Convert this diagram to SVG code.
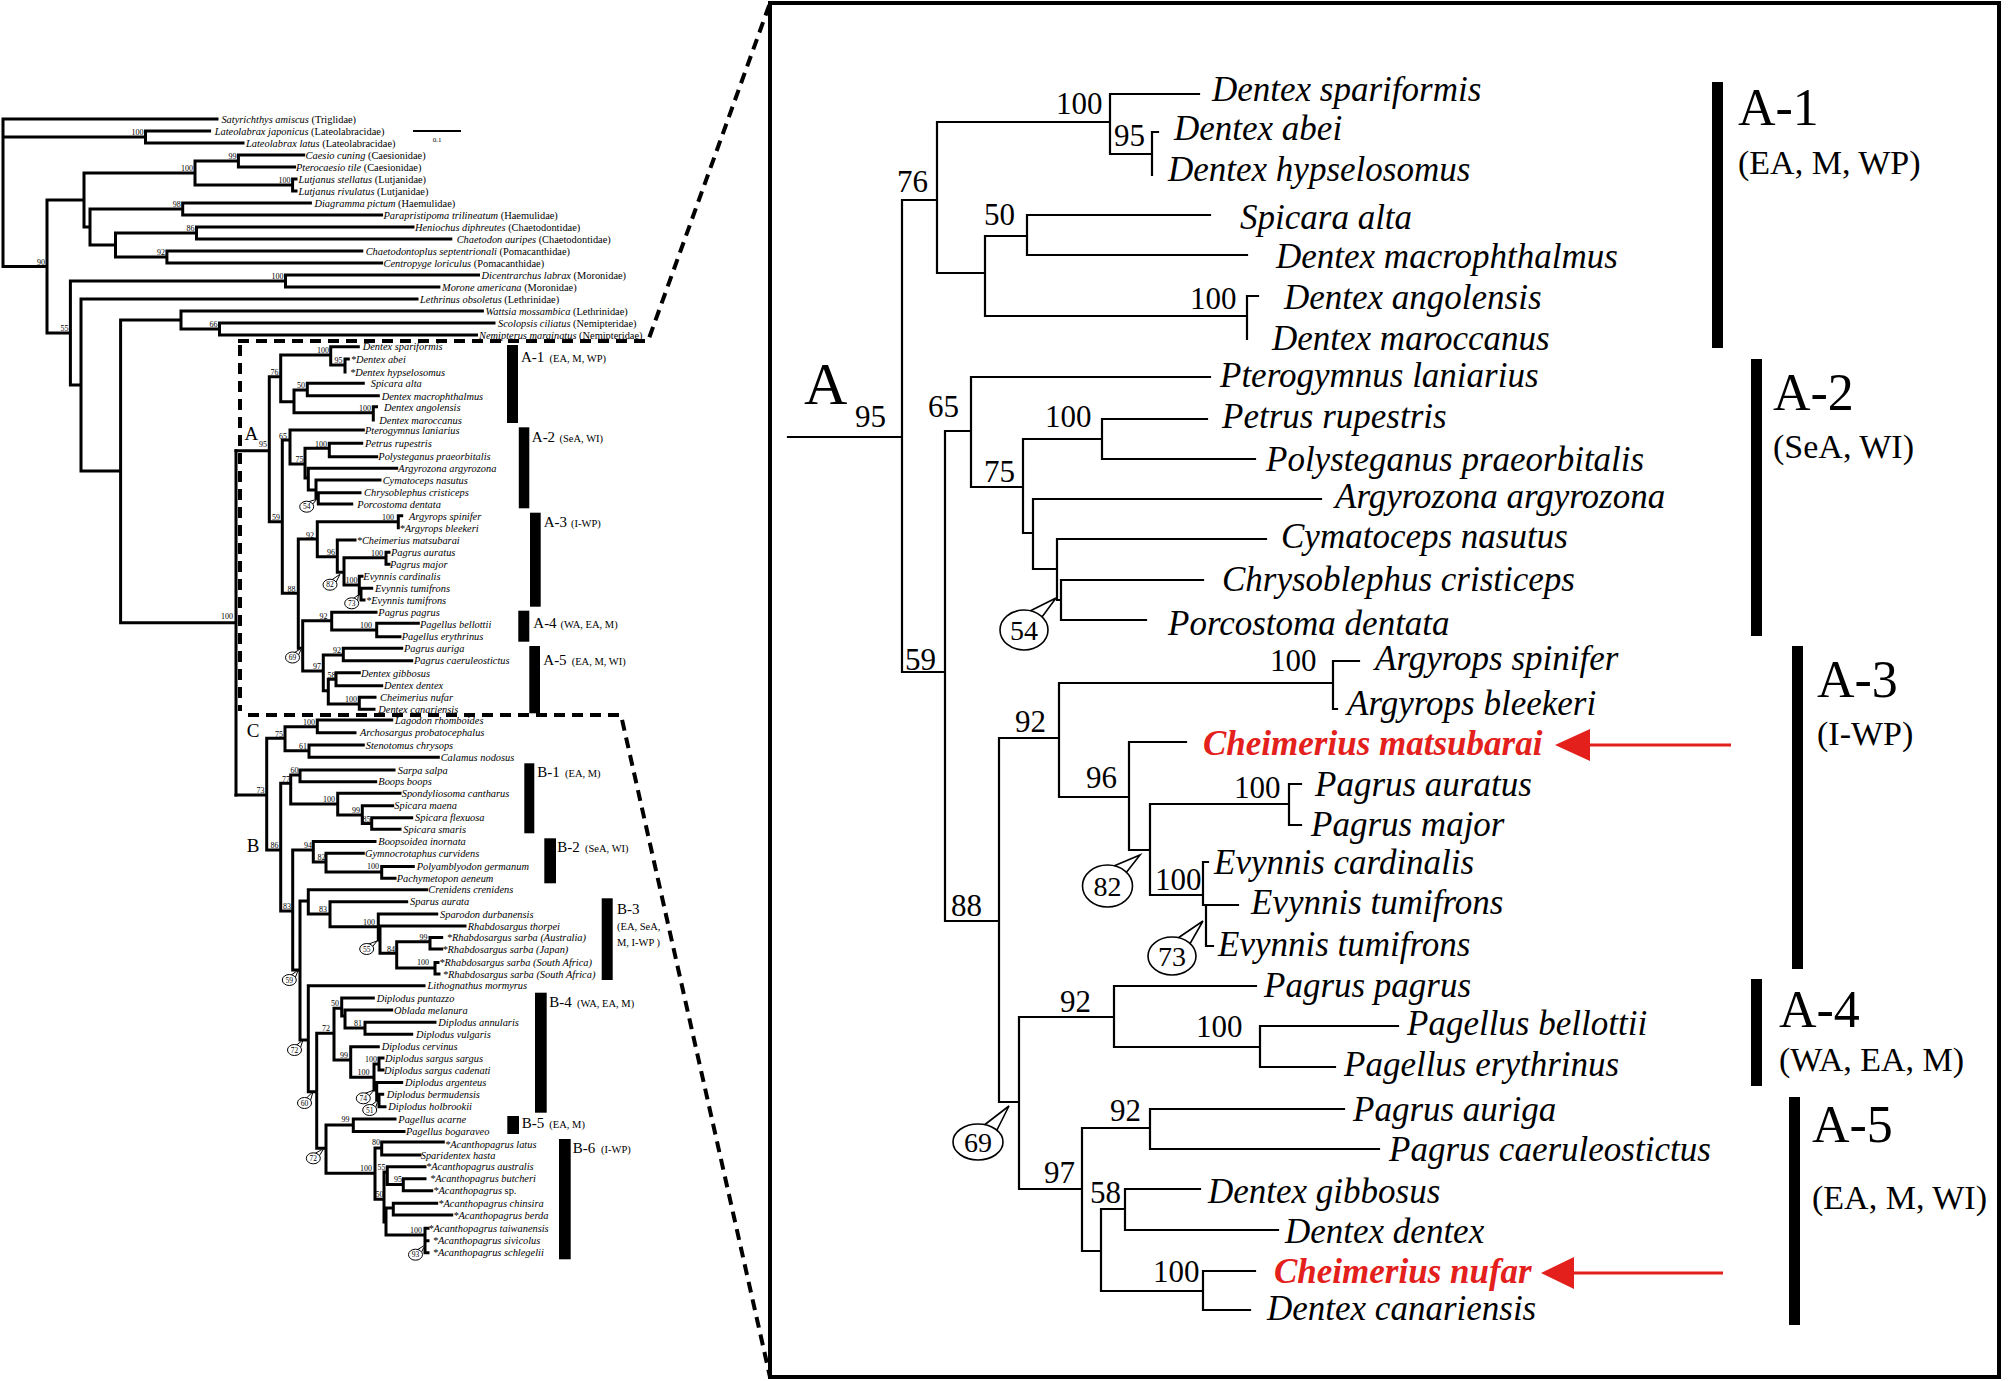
<svg xmlns="http://www.w3.org/2000/svg" width="2008" height="1381" viewBox="0 0 2008 1381">
<style>
text{font-family:"Liberation Serif","Times New Roman",serif;fill:#000}
.lt{font-size:10.4px;font-style:italic}
.r{font-style:normal}
.ln{font-size:8px;text-anchor:end}
.lc{font-size:7.5px;text-anchor:middle}
.lab{font-size:19px}
.cl{font-size:15px}
.cs{font-size:10.5px}
.rt{font-size:35px;font-style:italic}
.red{fill:#e3201b;font-weight:bold}
.rn{font-size:31px}
.rc{font-size:28px;text-anchor:middle}
.rcl{font-size:52px}
.rcs{font-size:34px}
.lb{fill:none;stroke:#000;stroke-width:3;stroke-linecap:square}
.rb{fill:none;stroke:#000;stroke-width:2.2;stroke-linecap:square}
.dash{fill:none;stroke:#000;stroke-width:4;stroke-dasharray:11 7}
.bl{fill:#fff;stroke:#000;stroke-width:1}
.br{fill:#fff;stroke:#000;stroke-width:1.6}
.bar{fill:#000}
.arr{stroke:#e3201b;stroke-width:3;fill:none}
.ah{fill:#e3201b}
</style>

<g id="connectors">
<g id="left-branches">
<path class="lb" d="M3 119V266.5M3 119H217M3 137H145.5M145.5 131V143M145.5 131H209.6M145.5 143H243M3 266.5H47M47 200V333M47 200H84M84 173V227M84 173H195M195 161V185M195 161H238.4M238.4 155V167M238.4 155H303.7M238.4 167H294.6M195 185H292.6M292.6 179V191M292.6 179H296M292.6 191H296M84 227H90M90 209V245M90 209H182.7M182.7 203V215M182.7 203H310.4M182.7 215H381.6M90 245H115.5M115.5 233V257M115.5 233H196.5M196.5 227V239M196.5 227H413M196.5 239H450.8M115.5 257H166.9M166.9 251V263M166.9 251H361.8M166.9 263H381.6M47 333H70.4M70.4 281V385M70.4 281H285.5M285.5 275V287M285.5 275H478.5M285.5 287H438.9M70.4 385H81M81 299V471M81 299H417M81 471H120.6M120.6 320V622.7M120.6 320H181M181 311V329M181 311H482.4M181 329H219.5M219.5 323V335M219.5 323H494M219.5 335H476.5M120.6 622.7H236M236 450.7V795"/>
<path class="lb" d="M236 450.7H269.3M269.3 376.7V521.7M269.3 376.7H280.7M280.7 355V401.7M280.7 355H330.7M330.7 346.7V365M330.7 346.7H358.3M330.7 365H345M345 359V372M345 359H348.3M280.7 401.7H294M294 390V412.7M294 390H307.3M307.3 383.3V395.7M307.3 383.3H363.3M307.3 395.7H378.3M294 412.7H373.3M373.3 406.7V420M373.3 406.7H376.5M269.3 521.7H282.3M282.3 440V593.3M282.3 440H290M290 430V464M290 430H363.3M290 464H305M305 448.3V478M305 448.3H329.3M329.3 443.3V456.7M329.3 443.3H361.7M329.3 456.7H376.7M305 478H308.3M308.3 468.3V490M308.3 468.3H396.7M308.3 490H316M316 480V498M316 480H380M316 498H318.3M318.3 492.7V504M318.3 492.7H360M318.3 504H351.7M282.3 593.3H298.3M298.3 539V648.3M298.3 539H317.3M317.3 521.7V556.7M317.3 521.7H398.3M398.3 515.7V527.7M398.3 515.7H401.7M317.3 556.7H337.3M337.3 540V572.3M337.3 540H355M337.3 572.3H344M344 557.7V585M344 557.7H386M386 552.3V564.3M386 552.3H389M386 564.3H389M344 585H359.3M359.3 576.3V594M359.3 576.3H362M359.3 594H361M361 588.3V600M361 588.3H371.7M361 600H364M298.3 648.3H302.7M302.7 620.7V671M302.7 620.7H331.7M331.7 612.3V630M331.7 612.3H376M331.7 630H376.7M376.7 623.3V636.7M376.7 623.3H418.3M376.7 636.7H400M302.7 671H323.3M323.3 655V690.7M323.3 655H343.3M343.3 648.3V660.7M343.3 648.3H401.7M343.3 660.7H411.7M323.3 690.7H328.3M328.3 679.3V704M328.3 679.3H336M336 672.7V685.7M336 672.7H359.3M336 685.7H381.7M328.3 704H359.3M359.3 697.3V709.3M359.3 697.3H375M359.3 709.3H374"/>
<path class="lb" d="M236 795H266.7M266.7 738.3V850M266.7 738.3H285M285 726.7V750.7M285 726.7H317.3M317.3 720V732.7M317.3 720H391.7M317.3 732.7H355M285 750.7H309M309 745V757.3M309 745H363.3M309 757.3H438.3M266.7 850H280.7M280.7 783.3V911M280.7 783.3H290.7M290.7 775V804M290.7 775H300M300 770V781.7M300 770H394M300 781.7H375.7M290.7 804H337.7M337.7 793.3V815M337.7 793.3H400M337.7 815H362.3M362.3 805.7V823.5M362.3 805.7H392.7M362.3 823.5H371.7M371.7 817.7V829.3M371.7 817.7H411.7M371.7 829.3H400M280.7 911H292.7M292.7 850V970M292.7 850H313.3M313.3 841.5V862M313.3 841.5H375M313.3 862H326M326 853.3V872M326 853.3H363.3M326 872H381.7M381.7 866.5V878.3M381.7 866.5H413.3M381.7 878.3H395M292.7 970H300M300 901V1040M300 901H308.3M308.3 889.7V914M308.3 889.7H426.7M308.3 914H330M330 901.7V926.7M330 901.7H406.7M330 926.7H378.3M378.3 914V940M378.3 914H436.7M378.3 940H380M380 926V953.3M380 926H465M380 953.3H396.7M396.7 941.7V968M396.7 941.7H430M430 937.5V949M430 937.5H441.7M430 949H441.7M396.7 968H435M435 962.5V974M435 962.5H438M435 974H439M300 1040H308.3M308.3 985.7V1091.7M308.3 985.7H424M308.3 1091.7H316.7M316.7 1033.3V1148.3M316.7 1033.3H334M334 1008.3V1060M334 1008.3H341.7M341.7 998V1016M341.7 998H373.3M341.7 1016H345M345 1010V1028M345 1010H391.7M345 1028H365M365 1022.3V1034.3M365 1022.3H435M365 1034.3H411.7M334 1060H350.7M350.7 1046.7V1077.3M350.7 1046.7H378.3M350.7 1077.3H374M374 1064V1090M374 1064H379M379 1058V1070M379 1058H383M379 1070H383M374 1090H376.7M376.7 1082.5V1100M376.7 1082.5H401.7M376.7 1100H379M379 1094.3V1106.7M379 1094.3H382.7M379 1106.7H385M316.7 1148.3H326M326 1125V1173.3M326 1125H353.3M353.3 1119V1131.5M353.3 1119H395M353.3 1131.5H404M326 1173.3H375M375 1148V1199.3M375 1148H381.7M381.7 1142V1155M381.7 1142H443.3M381.7 1155H420M375 1199.3H384M384 1172V1222M384 1172H387.3M387.3 1166.7V1184.5M387.3 1166.7H425M387.3 1184.5H403.3M403.3 1178.7V1190.7M403.3 1178.7H425M403.3 1190.7H431.7M384 1222H386M386 1208V1235M386 1208H393.3M393.3 1203.3V1215M393.3 1203.3H436.7M393.3 1215H451.7M386 1235H425M425 1228.3V1252.7M425 1228.3H428M425 1240.7H428M425 1252.7H428"/>
</g>
<g id="zoom-box">
<path class="dash" d="M238 341H648L770 3"/>
<path class="dash" d="M240 345V711"/>
<path class="dash" d="M248 715H621L770 1377"/>
</g>
<g id="right-branches">
<path class="rb" d="M788 437H902M902 200V672M902 200H937M937 122V273M937 122H1110M1110 94V154M1110 94H1199M1110 154H1152M1152 132V175M1152 132H1158M937 273H985M985 236V316M985 236H1027M1027 215V255M1027 215H1210M1027 255H1247M985 316H1247M1247 296V339M1247 296H1258M902 672H945M945 431V921M945 431H971M971 377V487M971 377H1210M971 487H1023M1023 439V533M1023 439H1102M1102 419V459M1102 419H1207M1102 459H1255M1023 533H1033M1033 499V569M1033 499H1321M1033 569H1057M1057 539V600M1057 539H1266M1057 600H1061M1061 580V620M1061 580H1203M1061 620H1146M945 921H999M999 738V1102M999 738H1059M1059 683V797M1059 683H1333M1333 661V709M1333 661H1359M1333 709H1337M1059 797H1129M1129 742V850M1129 742H1186M1129 850H1150M1150 804V895M1150 804H1289M1289 784V825M1289 784H1301M1289 825H1301M1150 895H1203M1203 862V905M1203 862H1208M1203 905H1238M1206 905V946M1206 946H1213M999 1102H1019M1019 1017V1189M1019 1017H1114M1114 986V1047M1114 986H1256M1114 1047H1260M1260 1026V1067M1260 1026H1398M1260 1067H1335M1019 1189H1082M1082 1128V1251M1082 1128H1150M1150 1109V1149M1150 1109H1344M1150 1149H1379M1082 1251H1101M1101 1209V1291M1101 1209H1125M1125 1189V1230M1125 1189H1200M1125 1230H1278M1101 1291H1203M1203 1271V1310M1203 1271H1255M1203 1310H1250"/>
</g>
<g id="red-arrows">
<path class="arr" d="M1731 745H1585"/>
<polygon class="ah" points="1555,745 1590,729 1590,761"/>
<path class="arr" d="M1723 1273H1568"/>
<polygon class="ah" points="1541,1273 1574,1257 1574,1289"/>
</g>
</g>

<g id="frame"><rect x="770" y="3" width="1229" height="1374" fill="none" stroke="#000" stroke-width="4"/></g>

<g id="scale-bar">
<path d="M413 131H461" stroke="#000" stroke-width="2"/>
<text x="437" y="142" font-size="7" text-anchor="middle">0.1</text>
</g>

<g id="left-outgroups" class="lt">
<text x="221.4" y="122.5">Satyrichthys amiscus<tspan class="r"> (Triglidae)</tspan></text>
<text x="214.7" y="134.5">Lateolabrax japonicus<tspan class="r"> (Lateolabracidae)</tspan></text>
<text x="246" y="146.5">Lateolabrax latus<tspan class="r"> (Lateolabracidae)</tspan></text>
<text x="305.6" y="158.5">Caesio cuning<tspan class="r"> (Caesionidae)</tspan></text>
<text x="296" y="170.5">Pterocaesio tile<tspan class="r"> (Caesionidae)</tspan></text>
<text x="298.5" y="182.5">Lutjanus stellatus<tspan class="r"> (Lutjanidae)</tspan></text>
<text x="298.5" y="194.5">Lutjanus rivulatus<tspan class="r"> (Lutjanidae)</tspan></text>
<text x="314.4" y="206.5">Diagramma pictum<tspan class="r"> (Haemulidae)</tspan></text>
<text x="383.5" y="218.5">Parapristipoma trilineatum<tspan class="r"> (Haemulidae)</tspan></text>
<text x="415" y="230.5">Heniochus diphreutes<tspan class="r"> (Chaetodontidae)</tspan></text>
<text x="456.7" y="242.5">Chaetodon auripes<tspan class="r"> (Chaetodontidae)</tspan></text>
<text x="365.7" y="254.5">Chaetodontoplus septentrionali<tspan class="r"> (Pomacanthidae)</tspan></text>
<text x="383.5" y="266.5">Centropyge loriculus<tspan class="r"> (Pomacanthidae)</tspan></text>
<text x="481.6" y="278.5">Dicentrarchus labrax<tspan class="r"> (Moronidae)</tspan></text>
<text x="442" y="290.5">Morone americana<tspan class="r"> (Moronidae)</tspan></text>
<text x="420" y="302.5">Lethrinus obsoletus<tspan class="r"> (Lethrinidae)</tspan></text>
<text x="485.6" y="314.5">Wattsia mossambica<tspan class="r"> (Lethrinidae)</tspan></text>
<text x="498" y="326.5">Scolopsis ciliatus<tspan class="r"> (Nemipteridae)</tspan></text>
<text x="479" y="338.5">Nemipterus marginatus<tspan class="r"> (Nemipteridae)</tspan></text>
</g>
<g id="left-outgroup-support" class="ln">
<text x="143.5" y="135">100</text>
<text x="236.4" y="159">99</text>
<text x="193" y="171">100</text>
<text x="290.6" y="183">100</text>
<text x="180.7" y="207">98</text>
<text x="194.5" y="231">86</text>
<text x="164.9" y="255">92</text>
<text x="283.5" y="279">100</text>
<text x="45" y="264.5">90</text>
<text x="68.4" y="331">55</text>
<text x="217.5" y="327">66</text>
<text x="233" y="619">100</text>
</g>

<g id="left-cladeA">
<g class="lt">
<text x="362.7" y="350.2">Dentex spariformis</text>
<text x="350.7" y="362.5">*Dentex abei</text>
<text x="350" y="375.5">*Dentex hypselosomus</text>
<text x="370.7" y="386.8">Spicara alta</text>
<text x="381.7" y="399.5">Dentex macrophthalmus</text>
<text x="384" y="410.5">Dentex angolensis</text>
<text x="379.3" y="423.5">Dentex maroccanus</text>
<text x="365" y="433.5">Pterogymnus laniarius</text>
<text x="365" y="446.8">Petrus rupestris</text>
<text x="378.3" y="459.5">Polysteganus praeorbitalis</text>
<text x="398.3" y="471.8">Argyrozona argyrozona</text>
<text x="382.7" y="483.5">Cymatoceps nasutus</text>
<text x="364" y="496">Chrysoblephus cristiceps</text>
<text x="357.3" y="507.5">Porcostoma dentata</text>
<text x="409" y="519.5">Argyrops spinifer</text>
<text x="399.5" y="531.5">*Argyrops bleekeri</text>
<text x="356.7" y="543.5">*Cheimerius matsubarai</text>
<text x="391" y="555.8">Pagrus auratus</text>
<text x="390" y="567.8">Pagrus major</text>
<text x="363.3" y="579.8">Evynnis cardinalis</text>
<text x="375" y="591.8">Evynnis tumifrons</text>
<text x="366" y="603.5">*Evynnis tumifrons</text>
<text x="378.3" y="615.8">Pagrus pagrus</text>
<text x="420" y="627.5">Pagellus bellottii</text>
<text x="401.7" y="640">Pagellus erythrinus</text>
<text x="404" y="652">Pagrus auriga</text>
<text x="414" y="664.2">Pagrus caeruleostictus</text>
<text x="361" y="676.5">Dentex gibbosus</text>
<text x="384" y="689">Dentex dentex</text>
<text x="380" y="700.8">Cheimerius nufar</text>
<text x="378.3" y="712.5">Dentex canariensis</text>
</g>
<text class="lab" x="244.5" y="440">A</text>
<g class="ln">
<text x="267" y="446.5">95</text>
<text x="278.5" y="375">76</text>
<text x="329" y="353">100</text>
<text x="342.5" y="363">95</text>
<text x="305" y="388">50</text>
<text x="371" y="410.5">100</text>
<text x="280" y="519.5">59</text>
<text x="287" y="438.5">65</text>
<text x="303.5" y="462">75</text>
<text x="327" y="446.5">100</text>
<text x="295.5" y="591.5">88</text>
<text x="314" y="537.5">92</text>
<text x="394" y="519.5">100</text>
<text x="335" y="554.5">96</text>
<text x="383" y="556">100</text>
<text x="357.5" y="583">100</text>
<text x="327.5" y="618.5">92</text>
<text x="372" y="628">100</text>
<text x="321" y="669">97</text>
<text x="341" y="653">92</text>
<text x="335.5" y="677.5">58</text>
<text x="357" y="702">100</text>
</g>
</g>

<g id="left-cladeBC">
<g class="lt">
<text x="395" y="723.5">Lagodon rhomboides</text>
<text x="360" y="736.2">Archosargus probatocephalus</text>
<text x="365.7" y="748.5">Stenotomus chrysops</text>
<text x="440.7" y="760.8">Calamus nodosus</text>
<text x="397.7" y="773.5">Sarpa salpa</text>
<text x="378.3" y="785.2">Boops boops</text>
<text x="401.7" y="796.8">Spondyliosoma cantharus</text>
<text x="394.3" y="809.2">Spicara maena</text>
<text x="415" y="821.2">Spicara flexuosa</text>
<text x="403.3" y="832.8">Spicara smaris</text>
<text x="378.3" y="845">Boopsoidea inornata</text>
<text x="365" y="856.8">Gymnocrotaphus curvidens</text>
<text x="416.7" y="870">Polyamblyodon germanum</text>
<text x="396.7" y="881.8">Pachymetopon aeneum</text>
<text x="428.3" y="893.2">Crenidens crenidens</text>
<text x="410" y="905.2">Sparus aurata</text>
<text x="440" y="917.5">Sparodon durbanensis</text>
<text x="467.7" y="929.5">Rhabdosargus thorpei</text>
<text x="446.7" y="941">*Rhabdosargus sarba (Australia)</text>
<text x="442.3" y="952.5">*Rhabdosargus sarba (Japan)</text>
<text x="439.3" y="966">*Rhabdosargus sarba (South Africa)</text>
<text x="442.7" y="977.5">*Rhabdosargus sarba (South Africa)</text>
<text x="427.5" y="989.2">Lithognathus mormyrus</text>
<text x="376.7" y="1001.5">Diplodus puntazzo</text>
<text x="394" y="1013.5">Oblada melanura</text>
<text x="438.3" y="1025.8">Diplodus annularis</text>
<text x="416" y="1037.8">Diplodus vulgaris</text>
<text x="381.7" y="1050.2">Diplodus cervinus</text>
<text x="385" y="1061.5">Diplodus sargus sargus</text>
<text x="384" y="1073.5">Diplodus sargus cadenati</text>
<text x="405" y="1086">Diplodus argenteus</text>
<text x="386.7" y="1097.8">Diplodus bermudensis</text>
<text x="388.3" y="1110.2">Diplodus holbrookii</text>
<text x="398.3" y="1122.5">Pagellus acarne</text>
<text x="406" y="1135">Pagellus bogaraveo</text>
<text x="445" y="1147.5">*Acanthopagrus latus</text>
<text x="420.7" y="1158.5">Sparidentex hasta</text>
<text x="426" y="1170.2">*Acanthopagrus australis</text>
<text x="430" y="1182.2">*Acanthopagrus butcheri</text>
<text x="433.3" y="1194.2">*Acanthopagrus<tspan class="r"> sp.</tspan></text>
<text x="438.3" y="1206.8">*Acanthopagrus chinsira</text>
<text x="453.3" y="1218.5">*Acanthopagrus berda</text>
<text x="428.3" y="1231.8">*Acanthopagrus taiwanensis</text>
<text x="432.7" y="1244.2">*Acanthopagrus sivicolus</text>
<text x="432.7" y="1256.2">*Acanthopagrus schlegelii</text>
</g>
<text class="lab" x="246.7" y="736.7">C</text>
<text class="lab" x="246.7" y="851.7">B</text>
<g class="ln">
<text x="264.5" y="792.5">73</text>
<text x="283" y="736.5">75</text>
<text x="315" y="725">100</text>
<text x="307" y="748.5">61</text>
<text x="278.5" y="848">86</text>
<text x="290" y="782">77</text>
<text x="298.5" y="773">60</text>
<text x="335" y="802">100</text>
<text x="360" y="813">99</text>
<text x="370.5" y="821.5">85</text>
<text x="291" y="909">83</text>
<text x="312" y="848">94</text>
<text x="325.5" y="860">82</text>
<text x="379" y="869">100</text>
<text x="327" y="911.5">83</text>
<text x="375" y="924.5">100</text>
<text x="395" y="951.5">84</text>
<text x="427.5" y="939.5">99</text>
<text x="429" y="965">100</text>
<text x="330" y="1031">72</text>
<text x="339" y="1006">50</text>
<text x="362" y="1025.5">81</text>
<text x="348" y="1057.5">99</text>
<text x="369.5" y="1074.5">100</text>
<text x="377" y="1061.5">100</text>
<text x="349.5" y="1122">99</text>
<text x="372" y="1171">100</text>
<text x="380" y="1145">80</text>
<text x="385.5" y="1170">55</text>
<text x="402" y="1182">95</text>
<text x="383.5" y="1197">50</text>
<text x="422" y="1233">100</text>
</g>
</g>

<g id="left-callouts">
<path class="bl" d="M308.7 501.7L316.7 499.3L312.7 504.2Z"/><ellipse class="bl" cx="306.7" cy="506.7" rx="7" ry="5.5"/><text class="lc" x="306.7" y="509.4">54</text>
<path class="bl" d="M332 579.7L340 574.3L336 582.2Z"/><ellipse class="bl" cx="330" cy="584.7" rx="7" ry="5.5"/><text class="lc" x="330" y="587.4">82</text>
<path class="bl" d="M353.7 598.3L358.3 595L357.7 600.8Z"/><ellipse class="bl" cx="351.7" cy="603.3" rx="7" ry="5.5"/><text class="lc" x="351.7" y="606">73</text>
<path class="bl" d="M294.5 652.5L301.7 648.3L298.5 655Z"/><ellipse class="bl" cx="292.5" cy="657.5" rx="7" ry="5.5"/><text class="lc" x="292.5" y="660.2">69</text>
<path class="bl" d="M291.3 975L298.3 970L295.3 977.5Z"/><ellipse class="bl" cx="289.3" cy="980" rx="7" ry="5.5"/><text class="lc" x="289.3" y="982.7">59</text>
<path class="bl" d="M368.7 944L377 941L372.7 946.5Z"/><ellipse class="bl" cx="366.7" cy="949" rx="7" ry="5.5"/><text class="lc" x="366.7" y="951.7">55</text>
<path class="bl" d="M296.5 1045L303 1040L300.5 1047.5Z"/><ellipse class="bl" cx="294.5" cy="1050" rx="7" ry="5.5"/><text class="lc" x="294.5" y="1052.7">72</text>
<path class="bl" d="M306.5 1098L313 1091.7L310.5 1100.5Z"/><ellipse class="bl" cx="304.5" cy="1103" rx="7" ry="5.5"/><text class="lc" x="304.5" y="1105.7">60</text>
<path class="bl" d="M365.3 1093.3L374 1090L369.3 1095.8Z"/><ellipse class="bl" cx="363.3" cy="1098.3" rx="7" ry="5.5"/><text class="lc" x="363.3" y="1101">74</text>
<path class="bl" d="M371.7 1105L378 1100L375.7 1107.5Z"/><ellipse class="bl" cx="369.7" cy="1110" rx="7" ry="5.5"/><text class="lc" x="369.7" y="1112.7">51</text>
<path class="bl" d="M315.3 1153.3L324 1148.3L319.3 1155.8Z"/><ellipse class="bl" cx="313.3" cy="1158.3" rx="7" ry="5.5"/><text class="lc" x="313.3" y="1161">72</text>
<path class="bl" d="M417.5 1249.7L425 1245L421.5 1252.2Z"/><ellipse class="bl" cx="415.5" cy="1254.7" rx="7" ry="5.5"/><text class="lc" x="415.5" y="1257.4">93</text>
</g>

<g id="left-clade-bars">
<rect class="bar" x="507" y="345" width="11" height="78"/>
<text class="cl" x="521" y="361.7">A-1</text><text class="cs" x="549.6" y="361.7">(EA, M, WP)</text>
<rect class="bar" x="518.8" y="427.3" width="10.5" height="81"/>
<text class="cl" x="531.8" y="441.7">A-2</text><text class="cs" x="559.5" y="441.7">(SeA, WI)</text>
<rect class="bar" x="530" y="512.7" width="10.7" height="94"/>
<text class="cl" x="543.7" y="526.7">A-3</text><text class="cs" x="571" y="526.7">(I-WP)</text>
<rect class="bar" x="518.3" y="610.7" width="11" height="31"/>
<text class="cl" x="533.3" y="628.3">A-4</text><text class="cs" x="560.5" y="628.3">(WA, EA, M)</text>
<rect class="bar" x="529.3" y="646" width="10.7" height="67.3"/>
<text class="cl" x="543.3" y="665">A-5</text><text class="cs" x="571.7" y="665">(EA, M, WI)</text>
<rect class="bar" x="524.3" y="763.3" width="10" height="70"/>
<text class="cl" x="537.3" y="777.3">B-1</text><text class="cs" x="565" y="777.3">(EA, M)</text>
<rect class="bar" x="544.3" y="838.3" width="11.7" height="45"/>
<text class="cl" x="557.3" y="851.7">B-2</text><text class="cs" x="585" y="851.7">(SeA, WI)</text>
<rect class="bar" x="601.7" y="898.3" width="11" height="81.7"/>
<text class="cl" x="617" y="914">B-3</text><text class="cs" x="617" y="930">(EA, SeA,</text><text class="cs" x="617" y="946">M, I-WP )</text>
<rect class="bar" x="535" y="992.7" width="11.7" height="120"/>
<text class="cl" x="549.3" y="1006.7">B-4</text><text class="cs" x="577" y="1006.7">(WA, EA, M)</text>
<rect class="bar" x="507.3" y="1116" width="11.7" height="18"/>
<text class="cl" x="521.7" y="1128.3">B-5</text><text class="cs" x="549.3" y="1128.3">(EA, M)</text>
<rect class="bar" x="559" y="1139" width="11.7" height="120.3"/>
<text class="cl" x="572.7" y="1152.7">B-6</text><text class="cs" x="601" y="1152.7">(I-WP)</text>
</g>

<g id="right-taxa" class="rt">
<g id="r-spariformis"><text x="1212" y="101">Dentex spariformis</text></g>
<g id="r-abei"><text x="1174" y="140">Dentex abei</text></g>
<g id="r-hypselosomus"><text x="1168" y="181">Dentex hypselosomus</text></g>
<g id="r-spicara"><text x="1240" y="229">Spicara alta</text></g>
<g id="r-macrophthalmus"><text x="1276" y="268">Dentex macrophthalmus</text></g>
<g id="r-angolensis"><text x="1284" y="309">Dentex angolensis</text></g>
<g id="r-maroccanus"><text x="1272" y="350">Dentex maroccanus</text></g>
<g id="r-pterogymnus"><text x="1220" y="387">Pterogymnus laniarius</text></g>
<g id="r-petrus"><text x="1222" y="428">Petrus rupestris</text></g>
<g id="r-polysteganus"><text x="1266" y="471">Polysteganus praeorbitalis</text></g>
<g id="r-argyrozona"><text x="1335" y="508">Argyrozona argyrozona</text></g>
<g id="r-cymatoceps"><text x="1281" y="548">Cymatoceps nasutus</text></g>
<g id="r-chrysoblephus"><text x="1222" y="591">Chrysoblephus cristiceps</text></g>
<g id="r-porcostoma"><text x="1168" y="635">Porcostoma dentata</text></g>
<g id="r-spinifer"><text x="1375" y="670">Argyrops spinifer</text></g>
<g id="r-bleekeri"><text x="1347" y="715">Argyrops bleekeri</text></g>
<g id="r-matsubarai"><text class="red" x="1203" y="755">Cheimerius matsubarai</text></g>
<g id="r-auratus"><text x="1315" y="796">Pagrus auratus</text></g>
<g id="r-major"><text x="1311" y="836">Pagrus major</text></g>
<g id="r-cardinalis"><text x="1214" y="874">Evynnis cardinalis</text></g>
<g id="r-tumifrons1"><text x="1251" y="914">Evynnis tumifrons</text></g>
<g id="r-tumifrons2"><text x="1218" y="956">Evynnis tumifrons</text></g>
<g id="r-pagrus"><text x="1264" y="997">Pagrus pagrus</text></g>
<g id="r-bellottii"><text x="1407" y="1035">Pagellus bellottii</text></g>
<g id="r-erythrinus"><text x="1344" y="1076">Pagellus erythrinus</text></g>
<g id="r-auriga"><text x="1353" y="1121">Pagrus auriga</text></g>
<g id="r-caeruleostictus"><text x="1389" y="1161">Pagrus caeruleostictus</text></g>
<g id="r-gibbosus"><text x="1208" y="1203">Dentex gibbosus</text></g>
<g id="r-dentex"><text x="1285" y="1243">Dentex dentex</text></g>
<g id="r-nufar"><text class="red" x="1274" y="1283">Cheimerius nufar</text></g>
<g id="r-canariensis"><text x="1267" y="1320">Dentex canariensis</text></g>
</g>

<g id="right-support" class="rn">
<text x="804" y="404" font-size="60">A</text>
<text x="855" y="427">95</text>
<text x="897" y="192">76</text>
<text x="1056" y="114">100</text>
<text x="1114" y="146">95</text>
<text x="984" y="225">50</text>
<text x="1190" y="309">100</text>
<text x="928" y="417">65</text>
<text x="984" y="482">75</text>
<text x="1045" y="427">100</text>
<text x="905" y="670">59</text>
<text x="1270" y="671">100</text>
<text x="1015" y="732">92</text>
<text x="1086" y="788">96</text>
<text x="1234" y="798">100</text>
<text x="1155" y="890">100</text>
<text x="951" y="916">88</text>
<text x="1060" y="1012">92</text>
<text x="1196" y="1037">100</text>
<text x="1044" y="1183">97</text>
<text x="1110" y="1121">92</text>
<text x="1090" y="1203">58</text>
<text x="1153" y="1282">100</text>
</g>

<g id="right-callouts">
<path class="br" d="M1030 611L1056 598L1042 617Z"/><ellipse class="br" cx="1024" cy="630" rx="24" ry="20"/><text class="rc" x="1024" y="640">54</text>
<path class="br" d="M1113.8 866L1140 855L1126.3 872.4Z"/><ellipse class="br" cx="1107.5" cy="886" rx="25" ry="21"/><text class="rc" x="1107.5" y="896">82</text>
<path class="br" d="M1178 938L1203 921L1190 943.7Z"/><ellipse class="br" cx="1172" cy="956" rx="24" ry="19"/><text class="rc" x="1172" y="966">73</text>
<path class="br" d="M984.3 1125L1009 1106L996.8 1130.3Z"/><ellipse class="br" cx="978" cy="1142" rx="25" ry="18"/><text class="rc" x="978" y="1152">69</text>
</g>

<g id="right-clade-bars">
<rect class="bar" x="1712" y="82" width="11" height="266"/>
<text class="rcl" x="1738" y="125">A-1</text><text class="rcs" x="1738" y="174">(EA, M, WP)</text>
<rect class="bar" x="1751" y="359" width="11" height="277"/>
<text class="rcl" x="1773" y="410">A-2</text><text class="rcs" x="1773" y="458">(SeA, WI)</text>
<rect class="bar" x="1792" y="646" width="11" height="323"/>
<text class="rcl" x="1817" y="697">A-3</text><text class="rcs" x="1817" y="745">(I-WP)</text>
<rect class="bar" x="1751" y="979" width="11" height="107"/>
<text class="rcl" x="1779" y="1027">A-4</text><text class="rcs" x="1779" y="1071">(WA, EA, M)</text>
<rect class="bar" x="1789" y="1097" width="11" height="228"/>
<text class="rcl" x="1812" y="1142">A-5</text><text class="rcs" x="1812" y="1209">(EA, M, WI)</text>
</g>
</svg>
